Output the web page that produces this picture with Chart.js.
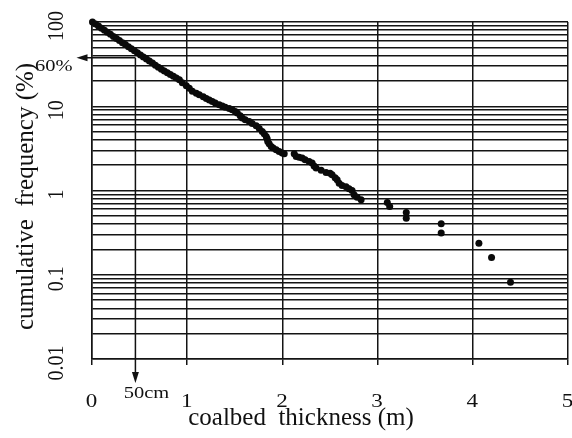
<!DOCTYPE html>
<html>
<head>
<meta charset="utf-8">
<script src="https://cdn.jsdelivr.net/npm/chart.js@4.4.1/dist/chart.umd.min.js"></script>
<style>
  html, body { margin: 0; padding: 0; background: #fff; }
  canvas { display: block; }
</style>
</head>
<body>
<canvas id="grafico-espessura" width="572" height="438"></canvas>
<script>
// Espessura das camadas de carvão (m) x frequência acumulada (%)
const thickness = [
    0.005, 0.037, 0.068, 0.100, 0.131, 0.162, 0.194, 0.225, 0.257, 0.288,
    0.320, 0.351, 0.383, 0.414, 0.446, 0.477, 0.509, 0.540, 0.572, 0.603,
    0.635, 0.666, 0.697, 0.729, 0.760, 0.792, 0.823, 0.855, 0.886, 0.918,
    0.949, 0.991, 1.022, 1.054, 1.096, 1.127, 1.169, 1.201, 1.232, 1.264,
    1.295, 1.337, 1.369, 1.400, 1.442, 1.473, 1.505, 1.526, 1.557, 1.578,
    1.610, 1.652, 1.683, 1.725, 1.757, 1.788, 1.809, 1.830, 1.840, 1.846,
    1.861, 1.882, 1.903, 1.935, 1.966, 1.998, 2.019,
    2.124, 2.145, 2.176, 2.208, 2.239, 2.281, 2.312, 2.333, 2.354, 2.407,
    2.459, 2.501, 2.522, 2.554, 2.575, 2.596, 2.627, 2.669, 2.700, 2.732,
    2.753, 2.785, 2.827,
    3.102, 3.127, 3.301, 3.301, 3.668, 3.668, 4.064, 4.197, 4.396
];
const cumFreq = [
    100, 94.4, 89.4, 84.4, 79.9, 75.5, 71.4, 67.5, 63.9, 60.3,
    56.9, 53.9, 50.9, 48.2, 45.5, 43.1, 40.7, 38.5, 36.4, 34.4,
    32.5, 30.7, 29.0, 27.5, 26.2, 25.0, 23.8, 22.7, 21.7, 20.6,
    19.0, 17.5, 16.4, 15.1, 14.3, 13.7, 13.0, 12.4, 11.9, 11.4,
    10.9, 10.4, 10.05, 9.73, 9.39, 9.08, 8.67, 8.30, 7.71, 7.24,
    6.91, 6.60, 6.23, 5.87, 5.45, 5.02, 4.71, 4.38, 4.11, 3.82,
    3.59, 3.33, 3.19, 3.04, 2.90, 2.78, 2.73,
    2.73, 2.53, 2.48, 2.43, 2.32, 2.21, 2.12, 1.96, 1.85, 1.74,
    1.64, 1.60, 1.54, 1.42, 1.34, 1.22, 1.15, 1.11, 1.05, 1.00,
    0.889, 0.830, 0.775,
    0.720, 0.646, 0.548, 0.470, 0.402, 0.312, 0.237, 0.160, 0.0817
];

const xTicks = [0, 1, 2, 3, 4, 5];
const yDecades = [0.01, 0.1, 1, 10];
const yMultipliers = [1, 2, 3, 4, 5, 6, 7, 8, 9];
const yTickLabels = ['0.01', '0.1', '1', '10', '100'];
const yTickValues = [0.01, 0.1, 1, 10, 100];

// Marca dos 50 cm / 60%
const markThickness = 0.456;
const markFreq = 37.7;

const FONTE = '"Liberation Serif", "Times New Roman", serif';
const SX = 1.28; // numbers are drawn a bit wider than normal
const LINHA = '#141414';

function desenharTexto(ctx, texto, x, y, tamanho, sx, align, baseline, rot) {
    ctx.save();
    ctx.translate(x, y);
    ctx.scale(sx, 1);
    if (rot) ctx.rotate(rot);
    ctx.font = tamanho + 'px ' + FONTE;
    ctx.textAlign = align;
    ctx.textBaseline = baseline;
    ctx.fillText(texto, 0, 0);
    ctx.restore();
}

function seta(ctx, x0, y0, x1, y1) {
    const ang = Math.atan2(y1 - y0, x1 - x0);
    const len = 11, half = 3.5;
    ctx.beginPath();
    ctx.moveTo(x0, y0);
    ctx.lineTo(x1 - Math.cos(ang) * len * 0.8, y1 - Math.sin(ang) * len * 0.8);
    ctx.stroke();
    ctx.beginPath();
    ctx.moveTo(x1, y1);
    ctx.lineTo(x1 - Math.cos(ang) * len - Math.sin(ang) * half, y1 - Math.sin(ang) * len + Math.cos(ang) * half);
    ctx.lineTo(x1 - Math.cos(ang) * len + Math.sin(ang) * half, y1 - Math.sin(ang) * len - Math.cos(ang) * half);
    ctx.closePath();
    ctx.fill();
}

const textosPlugin = {
    id: 'textos',
    afterDraw(chart) {
        const ctx = chart.ctx;
        const xs = chart.scales.x;
        const ys = chart.scales.y;
        const area = chart.chartArea;
        ctx.save();
        ctx.fillStyle = '#111';
        ctx.strokeStyle = '#111';
        ctx.lineWidth = 1.5;

        // rótulos do eixo x
        xTicks.forEach(v => {
            desenharTexto(ctx, String(v), xs.getPixelForValue(v) - 0.5, area.bottom + 48, 18, SX, 'center', 'alphabetic');
        });

        // rótulos do eixo y (girados)
        yTickValues.forEach((v, i) => {
            desenharTexto(ctx, yTickLabels[i], 56.5, ys.getPixelForValue(v) + 4, 20, 1.2, 'center', 'middle', -Math.PI / 2);
        });

        // títulos dos eixos
        desenharTexto(ctx, 'coalbed  thickness (m)', area.left + 209, area.bottom + 66, 25, 1, 'center', 'alphabetic');
        desenharTexto(ctx, 'cumulative  frequency (%)', 33, (area.top + area.bottom) / 2 + 6, 25, 1, 'center', 'alphabetic', -Math.PI / 2);

        // setas do 60% e dos 50 cm
        const mx = xs.getPixelForValue(markThickness);
        const my = ys.getPixelForValue(markFreq);
        seta(ctx, mx, my, area.left - 15.5, my);
        seta(ctx, mx, my, mx, area.bottom + 24);

        desenharTexto(ctx, '60%', area.left - 19.5, my + 13, 16, SX, 'right', 'alphabetic');
        desenharTexto(ctx, '50cm', mx + 11, area.bottom + 39, 16, SX, 'center', 'alphabetic');

        ctx.restore();
    }
};

const canvas = document.getElementById('grafico-espessura');
const grafico = new Chart(canvas.getContext('2d'), {
    type: 'scatter',
    data: {
        datasets: [{
            data: thickness.map((x, i) => ({ x: x, y: cumFreq[i] })),
            backgroundColor: '#0a0a0a',
            borderWidth: 0,
            pointRadius: 3.5,
            clip: false
        }]
    },
    options: {
        responsive: false,
        animation: false,
        devicePixelRatio: 1,
        layout: { padding: { top: 22, left: 92, right: 2.5, bottom: 73 } },
        plugins: {
            legend: { display: false },
            tooltip: { enabled: false }
        },
        scales: {
            x: {
                type: 'linear',
                min: 0,
                max: 5,
                afterBuildTicks: (scale) => { scale.ticks = xTicks.map(v => ({ value: v })); },
                ticks: { display: false },
                grid: { color: LINHA, lineWidth: 1.5, drawTicks: true, tickLength: 6 },
                border: { color: LINHA, width: 1.5 }
            },
            y: {
                type: 'logarithmic',
                min: 0.01,
                max: 100,
                afterBuildTicks: (scale) => {
                    const t = [];
                    yDecades.forEach(d => yMultipliers.forEach(m => t.push({ value: +(d * m).toPrecision(3) })));
                    t.push({ value: 100 });
                    scale.ticks = t;
                },
                ticks: { display: false },
                grid: { color: LINHA, lineWidth: 1.5, drawTicks: false },
                border: { color: LINHA, width: 1.5 }
            }
        }
    },
    plugins: [textosPlugin]
});
</script>
</body>
</html>
